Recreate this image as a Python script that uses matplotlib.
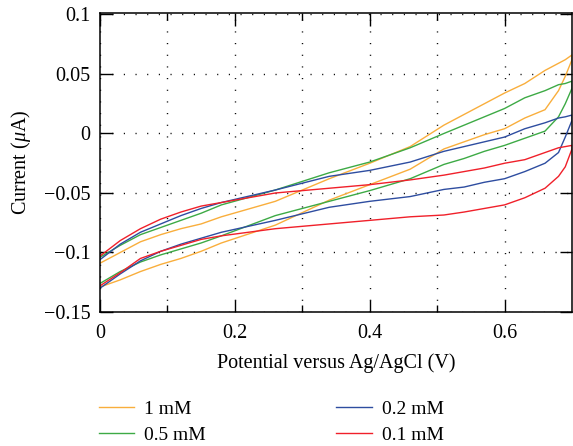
import matplotlib
matplotlib.use("Agg")
import matplotlib.pyplot as plt
from matplotlib.ticker import FixedLocator

plt.rcParams['font.family'] = ['Liberation Serif', 'DejaVu Serif']
plt.rcParams['mathtext.fontset'] = 'custom'
plt.rcParams['mathtext.rm'] = 'Liberation Serif'
plt.rcParams['mathtext.it'] = 'Liberation Serif:italic'

# Potential grid (V) shared by forward (lower) and reverse (upper) branches
potential = [0.00, 0.03, 0.06, 0.09, 0.12, 0.15, 0.18, 0.26, 0.34, 0.40,
             0.46, 0.51, 0.54, 0.57, 0.60, 0.63, 0.66, 0.68, 0.69, 0.70]

labels = ["1 mM", "0.5 mM", "0.2 mM", "0.1 mM"]
colors = ["#F9AE3C", "#3DAA45", "#2E4DA0", "#F0202A"]

# Current (uA) - lower branch
lower_1mM = [-0.129, -0.123, -0.116, -0.110, -0.105, -0.099, -0.092, -0.077, -0.056, -0.043,
             -0.030, -0.013, -0.007, -0.001, 0.004, 0.013, 0.020, 0.036, 0.048, 0.062]
lower_05mM = [-0.126, -0.116, -0.108, -0.102, -0.097, -0.092, -0.086, -0.069, -0.057, -0.048,
              -0.038, -0.026, -0.021, -0.015, -0.010, -0.004, 0.002, 0.014, 0.025, 0.038]
lower_02mM = [-0.130, -0.118, -0.107, -0.099, -0.093, -0.088, -0.083, -0.073, -0.062, -0.057,
              -0.053, -0.047, -0.045, -0.041, -0.038, -0.032, -0.025, -0.016, -0.003, 0.011]
lower_01mM = [-0.128, -0.117, -0.105, -0.099, -0.094, -0.089, -0.086, -0.080, -0.076, -0.073,
              -0.070, -0.0685, -0.066, -0.063, -0.060, -0.054, -0.046, -0.036, -0.028, -0.013]

# Current (uA) - upper branch
upper_1mM = [-0.109, -0.100, -0.091, -0.085, -0.080, -0.076, -0.070, -0.057, -0.038, -0.025,
             -0.011, 0.007, 0.016, 0.025, 0.034, 0.042, 0.053, 0.059, 0.062, 0.066]
upper_05mM = [-0.104, -0.094, -0.085, -0.079, -0.073, -0.067, -0.060, -0.0475, -0.033, -0.024,
              -0.012, 0.000, 0.007, 0.014, 0.021, 0.030, 0.036, 0.041, 0.042, 0.044]
upper_02mM = [-0.106, -0.093, -0.083, -0.076, -0.069, -0.063, -0.058, -0.0475, -0.036, -0.031,
              -0.024, -0.015, -0.011, -0.007, -0.003, 0.004, 0.009, 0.013, 0.014, 0.0155]
upper_01mM = [-0.103, -0.090, -0.080, -0.072, -0.066, -0.061, -0.058, -0.050, -0.046, -0.043,
              -0.039, -0.035, -0.032, -0.029, -0.025, -0.022, -0.016, -0.012, -0.011, -0.010]

lowers = [lower_1mM, lower_05mM, lower_02mM, lower_01mM]
uppers = [upper_1mM, upper_05mM, upper_02mM, upper_01mM]

xticks = [0, 0.2, 0.4, 0.6]
xtick_labels = ["0", "0.2", "0.4", "0.6"]
yticks = [-0.15, -0.1, -0.05, 0, 0.05, 0.1]
ytick_labels = ["\u22120.15", "\u22120.1", "\u22120.05", "0", "0.05", "0.1"]

fig = plt.figure(figsize=(5.73, 4.46), dpi=100)
ax = fig.add_axes([100/573, 1 - 312/446, 472/573, 299.3/446])

handles = []
for lo, up, c, lab in zip(lowers, uppers, colors, labels):
    xs = potential + potential[::-1]
    ys = lo + up[::-1]
    h, = ax.plot(xs, ys, color=c, lw=1.0, label=lab)
    handles.append(h)

ax.set_xlim(0, 0.7)
ax.set_ylim(-0.15, 0.1015)
ax.set_xticks(xticks)
ax.set_xticklabels(xtick_labels)
ax.set_yticks(yticks)
ax.set_yticklabels(ytick_labels)
ax.xaxis.set_minor_locator(FixedLocator([0.1, 0.3, 0.5]))

ax.tick_params(which='both', direction='in', top=True, right=True, labelsize=14.5, width=1.0)
ax.tick_params(which='major', length=9)
ax.tick_params(axis='x', which='major', pad=9)
ax.tick_params(axis='y', which='major', pad=7)
ax.tick_params(which='minor', length=5)
ax.grid(True, which='both', axis='x', color='black', linestyle=(0, (0.8, 7.6)), lw=1.0)
ax.grid(True, which='major', axis='y', color='black', linestyle=(0, (0.8, 7.6)), lw=1.0)
for s in ax.spines.values():
    s.set_linewidth(1.1)

ax.set_xlabel("Potential versus Ag/AgCl (V)", fontsize=14.5, labelpad=7)
ax.set_ylabel("Current ($\\mu$A)", fontsize=14.5, labelpad=8)

fig.legend(handles=handles, labels=labels, ncol=2, frameon=False, fontsize=14,
           loc='upper left', bbox_to_anchor=(81/573, 1 - 383/446),
           handlelength=1.85, handletextpad=0.5, columnspacing=6.7, labelspacing=0.42)

fig.savefig("out.png", dpi=100)
